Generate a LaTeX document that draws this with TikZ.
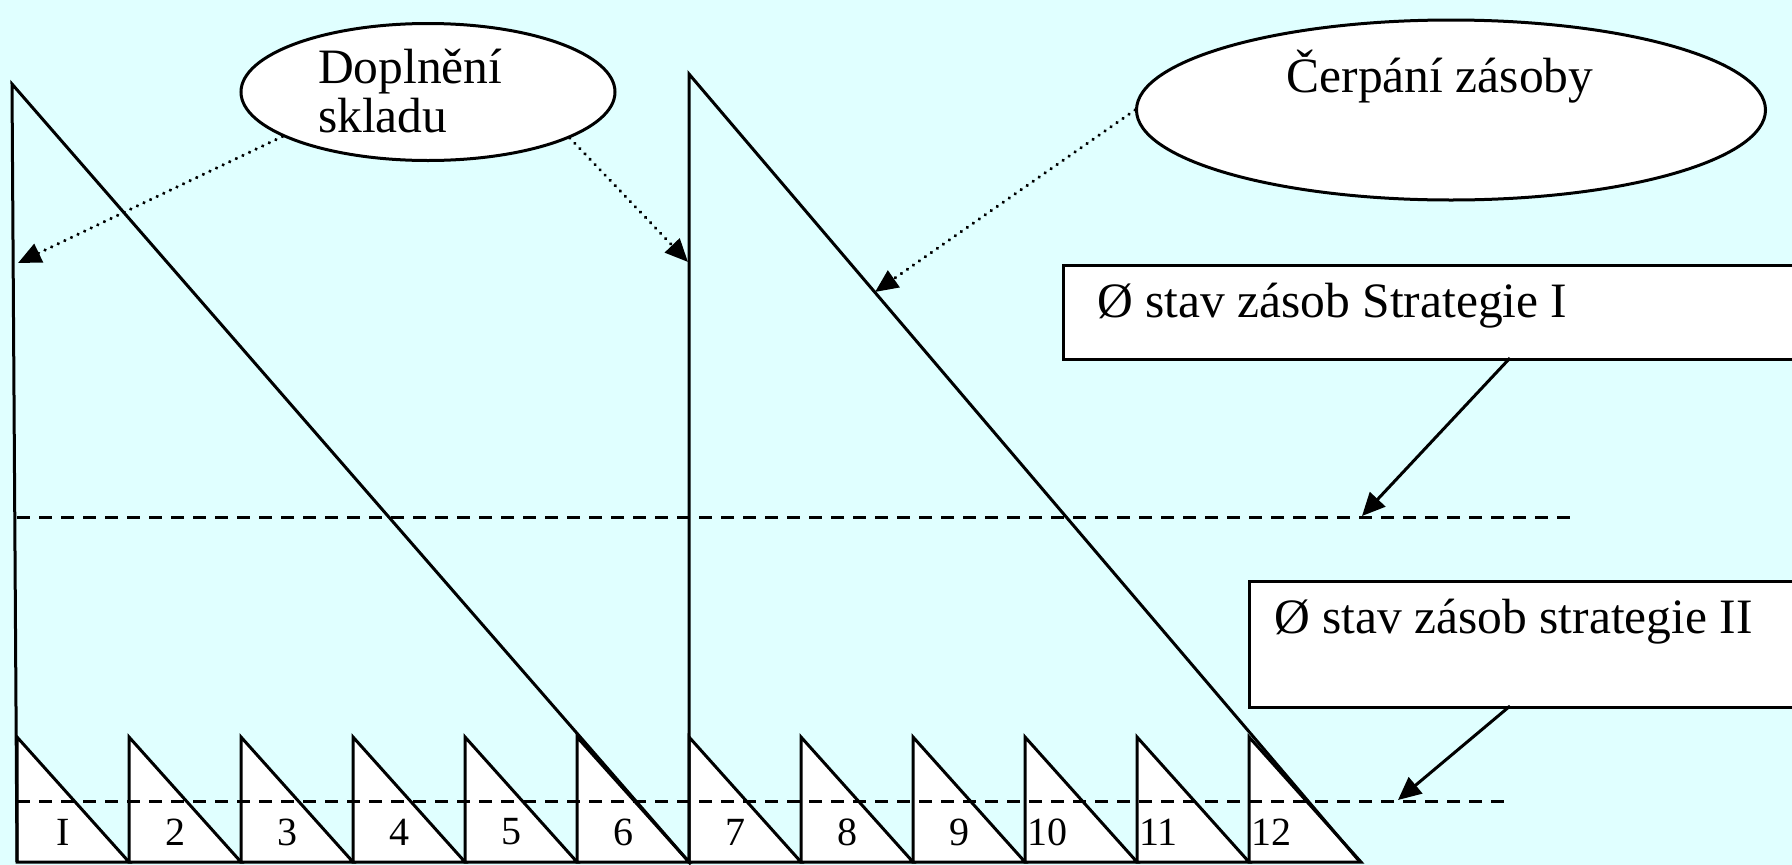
\documentclass[tikz,border=0pt]{standalone}
\usepackage{fontspec}
\setmainfont{Liberation Serif}
\usetikzlibrary{shapes.geometric,arrows.meta}
\definecolor{bgcyan}{RGB}{224,255,255}
\begin{document}
\begin{tikzpicture}[x=1pt,y=-1pt,
  ln/.style={line width=3pt, line join=miter},
  tri/.style={ln, fill=white},
  dashln/.style={line width=3pt, dash pattern=on 13pt off 9pt},
  dotarrow/.style={line width=3.6pt, line cap=round, dash pattern=on 0.01pt off 7.3pt, -{Triangle[length=23pt,width=20pt]}},
  solarrow/.style={line width=3pt, -{Triangle[length=23pt,width=21pt]}},
  bubble/.style={ellipse, draw, line width=3pt, fill=white, inner sep=0pt},
  boxnode/.style={draw, line width=3pt, fill=white, rectangle, inner sep=0pt, anchor=north west},
  bigtext/.style={font=\fontsize{49.5}{49}\selectfont, inner sep=0pt},
  num/.style={font=\fontsize{40}{40}\selectfont, inner sep=0pt}
]
\fill[bgcyan] (0,0) rectangle (1792,865);
\clip (0,0) rectangle (1792,865);

% small triangles
\foreach \i in {0,...,11} {
  \draw[tri] ({17+112*\i},737) -- ({17+112*\i},862) -- ({129+112*\i},862) -- cycle;
}
% labels
\foreach \i/\t in {0/I,1/2,2/3,3/4,4/5,5/6,6/7,7/8,8/9} {
  \node[num] (lab\i) at ({63+112*\i},832) {\t};
}
\node[num, anchor=west] (lab9) at (1027,832) {10};
\node[num, anchor=west] (lab10) at (1139,832) {11};
\node[num, anchor=west] (lab11) at (1251,832) {12};

% big sawtooth
\draw[ln] (17,862) -- (12,84) -- (689,862) -- (689,74) -- (1360,862);

% dashed average lines
\draw[dashln] (17,517) -- (1573,517);
\draw[dashln] (17,801) -- (1508,801);

% ellipses
\node[bubble, minimum width=374pt, minimum height=137pt] (e1) at (428,92) {};
\node[bigtext, anchor=base west] (t1a) at (318,83) {Doplnění};
\node[bigtext, anchor=base west] (t1b) at (318,132) {skladu};
\node[bubble, minimum width=629pt, minimum height=180pt] (e2) at (1451,110) {};
\node[bigtext, anchor=base] (t2) at (1440,92) {Čerpání zásoby};

% boxes
\node[boxnode, minimum width=800pt, minimum height=94pt] (b1) at (1062,264) {};
\node[bigtext, anchor=base west] (bt1) at (1097,317) {Ø stav zásob Strategie I};
\node[boxnode, minimum width=600pt, minimum height=126pt] (b2) at (1248,580) {};
\node[bigtext, anchor=base west] (bt2) at (1274,633) {Ø stav zásob strategie II};

% connector points
\coordinate (p1) at (18,263);
\coordinate (p2) at (688,262);
\coordinate (p3) at (875,292);
\coordinate (s1) at (1510,358);
\coordinate (q1) at (1362,516);
\coordinate (s2) at (1510,706);
\coordinate (q2) at (1398,800);

\draw[dotarrow] (e1.197) -- (p1);
\draw[dotarrow] (e1.-18) -- (p2);
\draw[dotarrow] (e2.west) -- (p3);
\draw[solarrow] (s1) -- (q1);
\draw[solarrow] (s2) -- (q2);
\end{tikzpicture}
\end{document}
